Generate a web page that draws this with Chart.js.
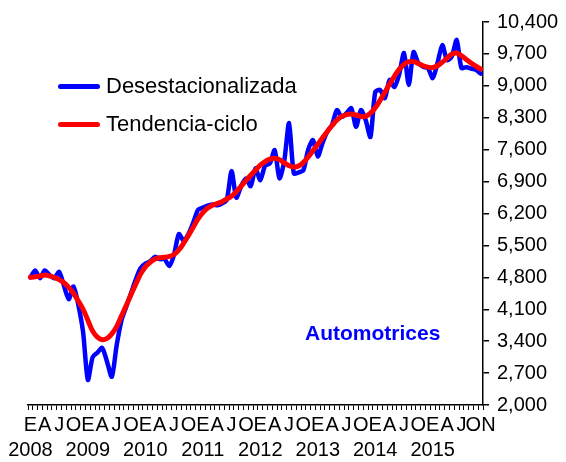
<!DOCTYPE html>
<html lang="es">
<head>
<meta charset="utf-8">
<title>Automotrices</title>
<script src="https://cdn.jsdelivr.net/npm/chart.js@4.4.1/dist/chart.umd.min.js"></script>
<style>
  html, body { margin: 0; padding: 0; background: #fff; }
  #wrap { position: relative; width: 566px; height: 462px; font-family: 'Liberation Sans', Arial, sans-serif; }
  .legend-row { position: absolute; left: 58px; display: flex; align-items: center; font-size: 22px; line-height: 26px; color: #000; }
  .legend-line { width: 42px; height: 5px; border-radius: 3px; margin-right: 6px; }
  #tag { position: absolute; left: 305px; top: 321px; font-size: 21px; line-height: 24px; font-weight: bold; color: #0000ff; }
</style>
</head>
<body>
<div id="wrap">
  <canvas id="chart"></canvas>
  <div class="legend-row" style="top:73px"><span class="legend-line" style="background:#0000ff"></span>Desestacionalizada</div>
  <div class="legend-row" style="top:111px"><span class="legend-line" style="background:#ff0000"></span>Tendencia-ciclo</div>
  <div id="tag">Automotrices</div>
</div>
<script>
// --- Data ---
const years = ['2008', '2009', '2010', '2011', '2012', '2013', '2014', '2015'];
const monthLetters = ['E', 'F', 'M', 'A', 'M', 'J', 'J', 'A', 'S', 'O', 'N', 'D'];
const shownMonths = [0, 3, 6, 9];
const endLabel = 'ON';
const lastMonth = 10; // noviembre 2015

// Serie desestacionalizada (ene 2008 - nov 2015)
const desestacionalizada = [
    4800, 4950, 4780, 4950, 4850, 4780, 4920, 4620, 4320, 4600, 4200, 3600,
    2550, 3050, 3150, 3250, 2950, 2620, 3300, 3850, 4150, 4450, 4750, 5000,
    5100, 5150, 5250, 5200, 5200, 5050, 5300, 5750, 5600, 5750, 6000, 6280,
    6330, 6370, 6400, 6380, 6420, 6500, 7130, 6550, 6800, 6970, 6800, 7190,
    6930, 7250, 7300, 7590, 6970, 7350, 8180, 7080, 7100, 7150, 7600, 7810,
    7450, 7750, 8000, 8150, 8470, 8315, 8400, 8510, 8100, 8470, 8250, 7880,
    8865, 8910, 8730, 9130, 8975, 9250, 9720, 9020, 9740, 9500, 9420, 9390,
    9170, 9500, 9895, 9565, 9650, 10005, 9390, 9410, 9380, 9350, 9270
];

// Tendencia-ciclo
const tendencia = [
    4800, 4810, 4830, 4850, 4830, 4800, 4750, 4680, 4580, 4450, 4280, 4100,
    3860, 3620, 3490, 3430, 3460, 3560, 3720, 3950, 4180, 4420, 4650, 4870,
    5030, 5130, 5200, 5230, 5240, 5260, 5300, 5400, 5550, 5720, 5900, 6080,
    6220, 6320, 6380, 6420, 6460, 6520, 6580, 6680, 6800, 6920, 7040, 7150,
    7260, 7340, 7390, 7410, 7380, 7310, 7250, 7220, 7240, 7320, 7440, 7580,
    7720, 7860, 8000, 8130, 8250, 8330, 8370, 8380, 8360, 8330, 8330, 8400,
    8520, 8680, 8860, 9040, 9210, 9360, 9470, 9530, 9530, 9490, 9440, 9410,
    9400, 9440, 9520, 9610, 9700, 9720, 9660, 9580, 9500, 9430, 9370
];

const yMin = 2000;
const yMax = 10400;
const yStep = 700;

const categories = [];
years.forEach((y, yi) => {
    monthLetters.forEach((m, mi) => {
        if (yi === years.length - 1 && mi > lastMonth) return;
        categories.push(m + ' ' + y);
    });
});

const FONT = "'Liberation Sans', Arial, sans-serif";
Chart.defaults.font.family = FONT;
Chart.defaults.color = '#000';

const ctx = document.getElementById('chart').getContext('2d');
new Chart(ctx, {
    type: 'line',
    data: {
        labels: categories,
        datasets: [
            { label: 'Tendencia-ciclo', data: tendencia, borderColor: '#ff0000', borderWidth: 5, pointRadius: 0, tension: 0.4, borderCapStyle: 'round', borderJoinStyle: 'round', order: 1 },
            { label: 'Desestacionalizada', data: desestacionalizada, borderColor: '#0000ff', borderWidth: 4.5, pointRadius: 0, tension: 0.25, borderCapStyle: 'round', borderJoinStyle: 'round', order: 2 }
        ]
    },
    options: {
        responsive: true, maintainAspectRatio: false, animation: false,
        layout: { padding: { top: 22, left: 28, right: 0, bottom: 0 } },
        plugins: { legend: { display: false }, tooltip: { enabled: false } },
        scales: {
            x: {
                type: 'category', offset: true,
                grid: { display: true, drawOnChartArea: false, drawTicks: true, tickLength: 5, color: '#000', lineWidth: 1, offset: true },
                border: { display: true, color: '#000', width: 1.5 },
                ticks: {
                    autoSkip: false, maxRotation: 0, minRotation: 0, padding: 3, color: '#000',
                    font: { size: 20, lineHeight: 1.25 },
                    callback: function (value, index) {
                        const last = categories.length - 1;
                        if (index === last) return endLabel;
                        if (index === last - 1) return '';
                        const m = index % 12;
                        if (m === 0) return [monthLetters[0], years[Math.floor(index / 12)]];
                        if (shownMonths.includes(m)) return monthLetters[m];
                        return '';
                    }
                },
                afterFit: (scale) => { scale.height = 57; }
            },
            y: {
                position: 'right', min: yMin, max: yMax,
                grid: { display: true, drawOnChartArea: false, drawTicks: true, tickLength: 6, color: '#000', lineWidth: 1.5 },
                border: { display: true, color: '#000', width: 1.5 },
                ticks: { stepSize: yStep, padding: 8, color: '#000', font: { size: 20 }, callback: (v) => v.toLocaleString('en-US') },
                afterFit: (scale) => { scale.width = 83; }
            }
        }
    }
});
</script>
</body>
</html>
